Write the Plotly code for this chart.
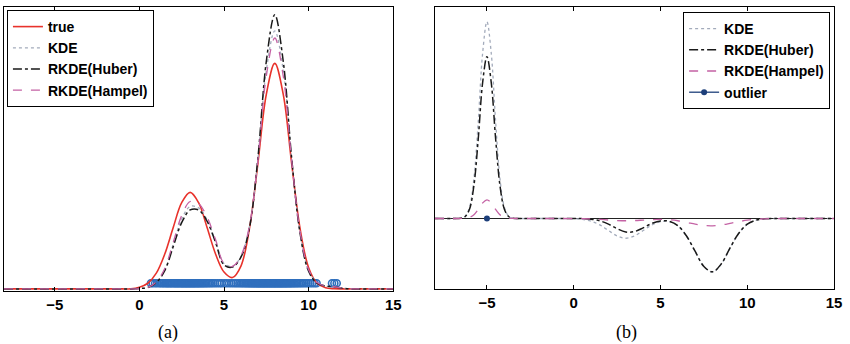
import plotly.graph_objects as go

# ---------------- panel (a) data ----------------
xa = [-8, -6, -4, -2, -1, -0.5, 0, 0.5, 1, 1.5, 2, 2.5, 3, 3.5, 4, 4.5, 5, 5.5, 6, 6.5,
      7, 7.5, 8, 8.5, 9, 9.5, 10, 10.5, 11, 11.5, 12, 12.5, 13, 14, 15]
true_a = [0, 0, 0, 0, 0, 0, 0.0023, 0.008, 0.0223, 0.0494, 0.0871, 0.1223, 0.137, 0.1223, 0.0871,
          0.0496, 0.0239, 0.0161, 0.0324, 0.0852, 0.1774, 0.2761, 0.32, 0.2761, 0.1773, 0.0847,
          0.0301, 0.008, 0.0016, 0.0002, 0, 0, 0, 0, 0]
kde_a = [0, 0, 0, 0, 0, 0, 0.0005, 0.002, 0.009, 0.027, 0.063, 0.099, 0.117, 0.115, 0.098,
         0.068, 0.036, 0.032, 0.046, 0.088, 0.183, 0.310, 0.366, 0.310, 0.183, 0.079,
         0.026, 0.009, 0.004, 0.003, 0.001, 0, 0, 0, 0]
huber_a = [0, 0, 0, 0, 0, 0, 0.0005, 0.002, 0.009, 0.026, 0.060, 0.094, 0.112, 0.112, 0.096,
           0.066, 0.034, 0.031, 0.045, 0.086, 0.185, 0.323, 0.389, 0.323, 0.185, 0.078,
           0.025, 0.008, 0.004, 0.003, 0.001, 0, 0, 0, 0]
hampel_a = [0, 0, 0, 0, 0, 0, 0.0005, 0.002, 0.010, 0.029, 0.066, 0.104, 0.124, 0.121, 0.102,
            0.070, 0.036, 0.032, 0.047, 0.089, 0.182, 0.302, 0.356, 0.302, 0.182, 0.080,
            0.027, 0.009, 0.004, 0.003, 0.001, 0, 0, 0, 0]
samples = [0.68, 0.79, 0.93, 1.05, 1.18, 1.27, 1.36, 1.44, 1.52, 1.61, 1.67, 1.74, 1.82, 1.88,
           1.95, 2.03, 2.09, 2.15, 2.22, 2.28, 2.34, 2.41, 2.47, 2.53, 2.58, 2.64, 2.70, 2.76,
           2.81, 2.87, 2.93, 2.98, 3.04, 3.10, 3.16, 3.21, 3.27, 3.33, 3.40, 3.46, 3.52, 3.59,
           3.66, 3.73, 3.80, 3.88, 3.96, 4.05, 4.14, 4.24, 4.35, 4.47, 4.60, 4.74, 4.86, 5.01,
           5.15, 5.30, 5.44, 5.57, 5.69, 5.80, 5.91, 6.01, 6.10, 6.19, 6.27, 6.35, 6.42, 6.49,
           6.56, 6.62, 6.68, 6.74, 6.80, 6.85, 6.91, 6.96, 7.01, 7.06, 7.11, 7.16, 7.21, 7.26,
           7.31, 7.36, 7.41, 7.46, 7.51, 7.56, 7.61, 7.66, 7.71, 7.76, 7.81, 7.86, 7.91, 7.96,
           8.01, 8.06, 8.11, 8.16, 8.21, 8.26, 8.31, 8.36, 8.41, 8.46, 8.52, 8.57, 8.62, 8.68,
           8.73, 8.79, 8.85, 8.91, 8.97, 9.04, 9.11, 9.18, 9.26, 9.34, 9.43, 9.52, 9.62, 9.73,
           9.85, 9.97, 10.10, 10.22, 10.35, 10.47, 11.38, 11.52, 11.66]
sample_level = 0.008

# ---------------- panel (b) data ----------------
xb = [-8, -7, -6.5, -6.25, -6, -5.75, -5.5, -5.25, -5, -4.75, -4.5, -4.25, -4, -3.75, -3.5,
      -3, -2, -1, 0, 0.5, 1, 1.5, 2, 2.5, 3, 3.5, 4, 4.5, 5, 5.5, 6, 6.5, 7, 7.5, 8, 8.5,
      9, 9.5, 10, 10.5, 11, 11.5, 12, 13, 14, 15]
kde_b = [0, 0, 0.0012, 0.0083, 0.041, 0.142, 0.344, 0.585, 0.698, 0.585, 0.344, 0.142, 0.041,
         0.0083, 0.0012, 0, 0, 0, -0.0008, -0.0031, -0.0095, -0.0227, -0.0425, -0.0618, -0.070,
         -0.0618, -0.0425, -0.023, -0.0114, -0.0109, -0.026, -0.0623, -0.1176, -0.1706, -0.19,
         -0.1618, -0.1058, -0.053, -0.0204, -0.006, -0.0013, -0.0002, 0, 0, 0, 0]
huber_b = [0, 0, 0.001, 0.007, 0.034, 0.117, 0.283, 0.481, 0.574, 0.481, 0.283, 0.117, 0.034,
           0.007, 0.001, 0, 0, 0, -0.0001, -0.0005, -0.0025, -0.0082, -0.0201, -0.0362, -0.0478,
           -0.0464, -0.033, -0.0176, -0.0085, -0.0097, -0.0255, -0.0619, -0.117, -0.170, -0.189,
           -0.161, -0.105, -0.053, -0.020, -0.006, -0.0013, -0.0002, 0, 0, 0, 0]
hampel_b = [0, 0, 0.0001, 0.0008, 0.0039, 0.0134, 0.0325, 0.055, 0.066, 0.055, 0.0325, 0.0134,
            0.0039, 0.0008, 0.0001, 0, 0, 0, -0.0002, -0.0007, -0.0016, -0.0033, -0.0054,
            -0.0072, -0.008, -0.0072, -0.0056, -0.0039, -0.0032, -0.0045, -0.008, -0.0136,
            -0.0199, -0.0247, -0.0259, -0.0231, -0.0174, -0.0111, -0.006, -0.0027, -0.0011,
            -0.0003, 0, 0, 0, 0]
outlier_x = [-5]
outlier_y = [0]

tickvals = [-5, 0, 5, 10, 15]
ticktext = ["\u22125", "0", "5", "10", "15"]

RED = "#e8322b"
KDE_C = "#a3abbb"
HUB_C = "#1a1a1a"
HAM_C = "#c462a4"
BLUE = "#2f6fbd"
OUT_C = "#1d3f7a"

fig = go.Figure()

# panel (a)
fig.add_trace(go.Scatter(x=samples, y=[sample_level] * len(samples), mode="markers",
                         marker=dict(symbol="circle-open", size=7, color=BLUE, line=dict(width=1.6)),
                         showlegend=False, xaxis="x", yaxis="y", hoverinfo="skip"))
fig.add_trace(go.Scatter(x=xa, y=true_a, mode="lines", name="true", line=dict(color=RED, width=1.6, shape="spline"),
                         xaxis="x", yaxis="y", legend="legend"))
fig.add_trace(go.Scatter(x=xa, y=kde_a, mode="lines", name="KDE",
                         line=dict(color=KDE_C, width=1.3, dash="dot", shape="spline"),
                         xaxis="x", yaxis="y", legend="legend"))
fig.add_trace(go.Scatter(x=xa, y=huber_a, mode="lines", name="RKDE(Huber)",
                         line=dict(color=HUB_C, width=1.5, dash="dashdot", shape="spline"),
                         xaxis="x", yaxis="y", legend="legend"))
fig.add_trace(go.Scatter(x=xa, y=hampel_a, mode="lines", name="RKDE(Hampel)",
                         line=dict(color=HAM_C, width=1.3, dash="dash", shape="spline"),
                         xaxis="x", yaxis="y", legend="legend"))

# panel (b)
fig.add_trace(go.Scatter(x=xb, y=kde_b, mode="lines", name="KDE",
                         line=dict(color=KDE_C, width=1.3, dash="dot", shape="spline"),
                         xaxis="x2", yaxis="y2", legend="legend2"))
fig.add_trace(go.Scatter(x=xb, y=huber_b, mode="lines", name="RKDE(Huber)",
                         line=dict(color=HUB_C, width=1.5, dash="dashdot", shape="spline"),
                         xaxis="x2", yaxis="y2", legend="legend2"))
fig.add_trace(go.Scatter(x=xb, y=hampel_b, mode="lines", name="RKDE(Hampel)",
                         line=dict(color=HAM_C, width=1.3, dash="dash", shape="spline"),
                         xaxis="x2", yaxis="y2", legend="legend2"))
fig.add_trace(go.Scatter(x=outlier_x, y=outlier_y, mode="lines+markers", name="outlier",
                         line=dict(color=OUT_C, width=1.3), marker=dict(color=OUT_C, size=6),
                         xaxis="x2", yaxis="y2", legend="legend2"))

axis_common = dict(showline=True, linecolor="black", linewidth=1, mirror="ticks", ticks="inside",
                   ticklen=4, tickcolor="black", showgrid=False, zeroline=False,
                   tickvals=tickvals, ticktext=ticktext, range=[-8, 15],
                   tickfont=dict(family="Liberation Sans", size=15, color="black", weight="bold"))
yaxis_common = dict(showline=True, linecolor="black", linewidth=1, mirror=True, ticks="",
                    showticklabels=False, showgrid=False)

legend_common = dict(bgcolor="white", bordercolor="black", borderwidth=1,
                     font=dict(family="Liberation Sans", size=14, color="black", weight="bold"),
                     yanchor="top", tracegroupgap=0, itemwidth=30)

fig.update_layout(
    width=850, height=344, margin=dict(l=0, r=0, t=0, b=0),
    paper_bgcolor="white", plot_bgcolor="white",
    xaxis=dict(domain=[4 / 850, 397 / 850], anchor="y", **axis_common),
    yaxis=dict(domain=[1 - 291 / 344, 1 - 7 / 344], anchor="x", range=[-0.003, 0.4],
               zeroline=False, **yaxis_common),
    xaxis2=dict(domain=[439 / 850, 842 / 850], anchor="y2", **axis_common),
    yaxis2=dict(domain=[1 - 289 / 344, 1 - 7 / 344], anchor="x2", range=[-0.25, 0.75],
                zeroline=True, zerolinecolor="#222222", zerolinewidth=1, **yaxis_common),
    legend=dict(x=7 / 850, y=1 - 10 / 344, xanchor="left", **legend_common),
    legend2=dict(x=838 / 850, y=1 - 12 / 344, xanchor="right", **legend_common),
    annotations=[
        dict(text="(a)", x=170 / 850, y=1 - 332 / 344, xref="paper", yref="paper", showarrow=False,
             xanchor="center", yanchor="middle",
             font=dict(family="Liberation Serif", size=18, color="black")),
        dict(text="(b)", x=632 / 850, y=1 - 332 / 344, xref="paper", yref="paper", showarrow=False,
             xanchor="center", yanchor="middle",
             font=dict(family="Liberation Serif", size=18, color="black")),
    ],
)

fig.write_html("out.html")
